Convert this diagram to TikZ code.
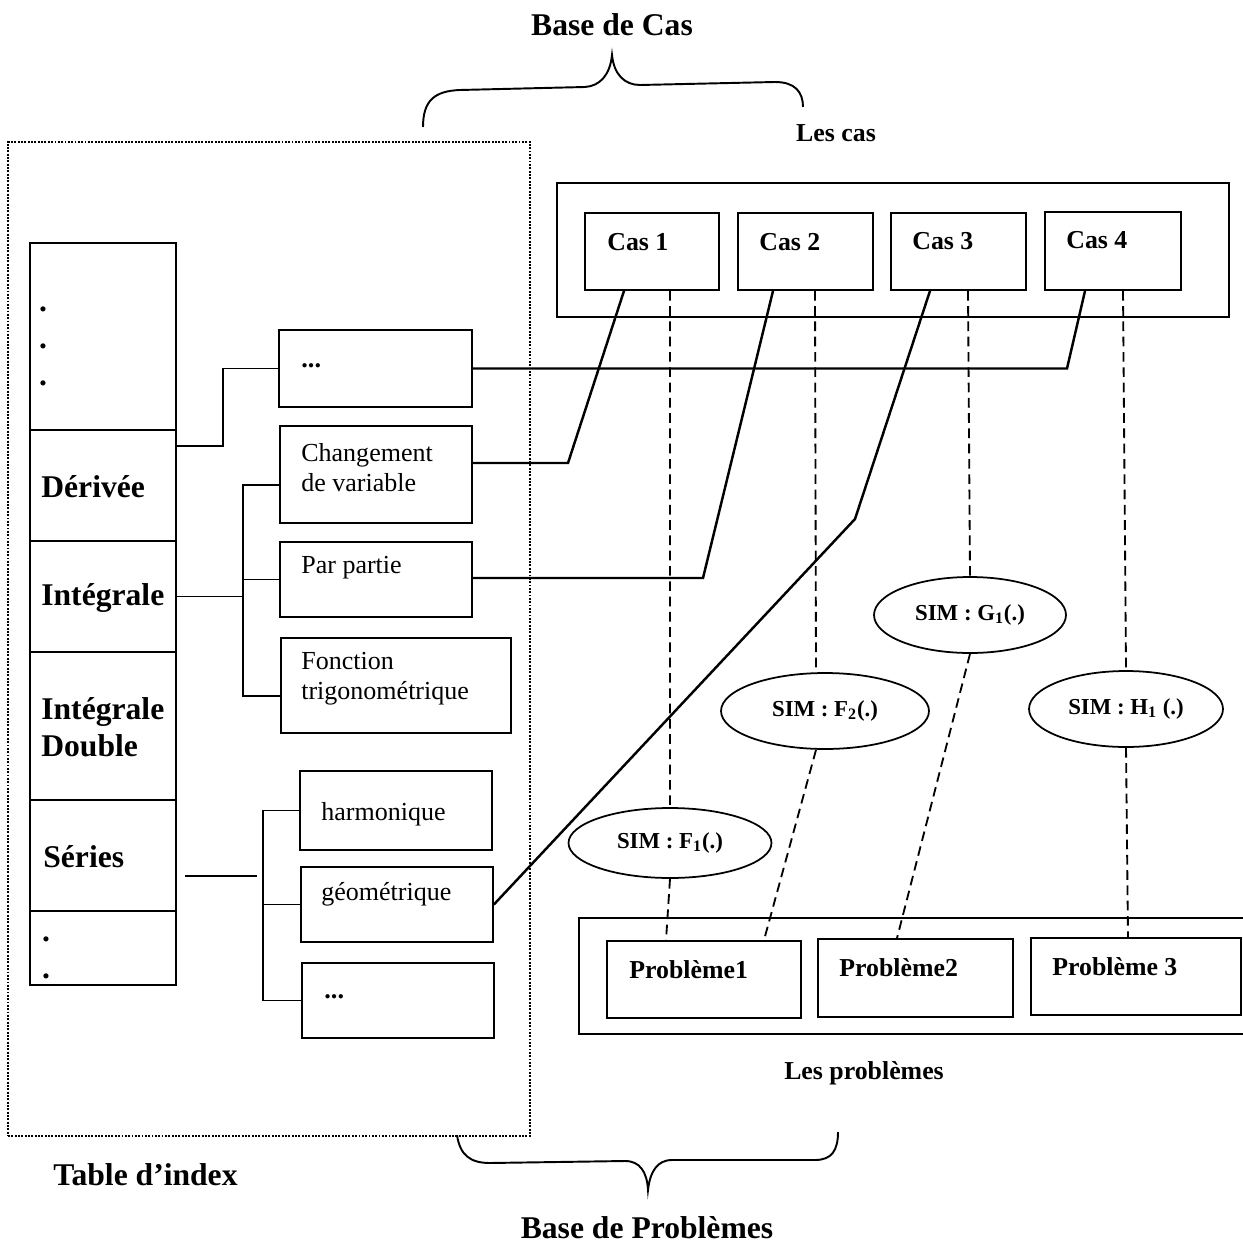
\documentclass[tikz,border=0pt]{standalone}
\usepackage{fontspec}
\setmainfont{Liberation Serif}
\usetikzlibrary{fit,shapes.geometric,calc}
\begin{document}
\begin{tikzpicture}[x=0.02cm,y=-0.02cm,
  box/.style={draw, line width=1pt, inner sep=0pt},
  tree/.style={line width=1.1pt},
  link/.style={line width=1.4pt},
  dline/.style={line width=1.05pt, dash pattern=on 5.5pt off 3.2pt},
  sim/.style={draw, ellipse, line width=1pt, inner sep=0pt, font=\fontsize{13}{15}\selectfont\bfseries},
  bigt/.style={font=\fontsize{18}{21}\selectfont\bfseries, inner sep=0pt, align=left},
  midt/.style={font=\fontsize{14.7}{17}\selectfont\bfseries, inner sep=0pt},
  txt/.style={font=\fontsize{14.8}{17}\selectfont, inner sep=0pt, align=left},
  dots/.style={font=\fontsize{15}{17}\selectfont\bfseries, inner sep=0pt},
  brace/.style={line width=1.1pt},
]
\useasboundingbox (0,0) rectangle (1243,1243);

% titles
\node[bigt] (tBaseCas) at (612,25) {Base de Cas};
\node[midt] (tLesCas) at (836,133) {Les cas};
\node[bigt, anchor=west] (tTable) at (53,1175) {Table d’index};
\node[bigt] (tBaseProb) at (647,1228) {Base de Problèmes};
\node[midt] (tLesProb) at (864,1073) {Les problèmes};

% braces
\draw[brace] (423,127) .. controls (423,100) and (435,91) .. (460,90) -- (585,87)
  .. controls (600,86) and (610,75) .. (612,55)
  .. controls (614,75) and (625,85) .. (640,85) -- (775,82)
  .. controls (795,82) and (803,92) .. (803,107);
\draw[brace] (457,1135) .. controls (460,1155) and (470,1163) .. (490,1163) -- (625,1161)
  .. controls (640,1161) and (647,1172) .. (648,1190)
  .. controls (650,1172) and (657,1160) .. (672,1160) -- (815,1160)
  .. controls (832,1160) and (838,1150) .. (838,1132);

% dotted index table frame
\node[draw, line width=1.1pt, dash pattern=on 1.1pt off 0.8pt, inner sep=0pt,
      fit={(8,142) (530,1136)}] (tableidx) {};

% column cells
\node[box, fit={(30,243) (176,430)}] (cTop) {};
\node[box, fit={(30,430) (176,541)}] (cDer) {};
\node[box, fit={(30,541) (176,652)}] (cInt) {};
\node[box, fit={(30,652) (176,800)}] (cDbl) {};
\node[box, fit={(30,800) (176,911)}] (cSer) {};
\node[box, fit={(30,911) (176,985)}] (cBot) {};

\node[bigt] (d1) at (43,309) {.};
\node[bigt] (d2) at (43,346) {.};
\node[bigt] (d3) at (43,383) {.};
\node[bigt, anchor=west] (tDer) at (41,487) {Dérivée};
\node[bigt, anchor=west] (tInt) at (41,598) {Intégrale};
\node[bigt, anchor=west] (tDbl) at (41,727) {Intégrale\\Double};
\node[bigt, anchor=west] (tSer) at (43,857) {Séries};
\node[bigt] (d4) at (46,939) {.};
\node[bigt] (d5) at (46,976) {.};

% middle boxes
\node[box, fit={(279,330) (472,407)}] (bDots1) {};
\node[box, fit={(280,426) (472,523)}] (bChg) {};
\node[box, fit={(280,542) (472,617)}] (bPar) {};
\node[box, fit={(281,638) (511,733)}] (bFct) {};
\node[box, fit={(300,771) (492,850)}] (bHar) {};
\node[box, fit={(301,867) (493,942)}] (bGeo) {};
\node[box, fit={(302,963) (494,1038)}] (bDots2) {};

\node[dots, anchor=west] (tDots1) at (301,366) {...};
\node[txt, anchor=west] (tChg) at (301,468) {Changement\\de variable};
\node[txt, anchor=west] (tPar) at (301,568) {Par partie};
\node[txt, anchor=west] (tFct) at (301,679) {Fonction\\trigonométrique};
\node[txt, anchor=west] (tHar) at (321,814) {harmonique};
\node[txt, anchor=west] (tGeo) at (321,894) {géométrique};
\node[dots, anchor=west] (tDots2) at (324,997) {...};

% cases
\node[box, fit={(557,183) (1229,317)}] (casbox) {};
\node[box, fit={(585,213) (719,290)}] (cas1) {};
\node[box, fit={(738,213) (873,290)}] (cas2) {};
\node[box, fit={(891,213) (1026,290)}] (cas3) {};
\node[box, fit={(1045,212) (1181,290)}] (cas4) {};
\node[midt, anchor=west] (tCas1) at (607,242) {Cas 1};
\node[midt, anchor=west] (tCas2) at (759,242) {Cas 2};
\node[midt, anchor=west] (tCas3) at (912,241) {Cas 3};
\node[midt, anchor=west] (tCas4) at (1066,240) {Cas 4};

% similarity ellipses
\node[sim, minimum width=4.06cm, minimum height=1.4cm] (f1) at (670,843) {SIM : F\textsubscript{1}(.)};
\node[sim, minimum width=4.16cm, minimum height=1.52cm] (f2) at (825,711) {SIM : F\textsubscript{2}(.)};
\node[sim, minimum width=3.84cm, minimum height=1.52cm] (g1) at (970,615) {SIM : G\textsubscript{1}(.)};
\node[sim, minimum width=3.88cm, minimum height=1.52cm] (h1) at (1126,709) {SIM : H\textsubscript{1} (.)};

% problems
\node[box, fit={(579,918) (1275,1034)}] (probbox) {};
\node[box, fit={(607,941) (801,1018)}] (p1) {};
\node[box, fit={(818,939) (1013,1017)}] (p2) {};
\node[box, fit={(1031,938) (1241,1015)}] (p3) {};
\node[midt, anchor=west] (tP1) at (629,970) {Problème1};
\node[midt, anchor=west] (tP2) at (839,968) {Problème2};
\node[midt, anchor=west] (tP3) at (1052,967) {Problème 3};

% tree connectors
\draw[tree] ([yshift=-0.34cm]cDer.north east) -- ++(46,0) |- (bDots1.west);
\coordinate (iB) at (243,0);
\coordinate (iB1) at (243,485);
\coordinate (iB3) at (243,696);
\draw[tree] (cInt.east) -- (cInt.east -| iB);
\draw[tree] (iB1 -| bChg.west) -- (iB1) -- (iB3) -- (iB3 -| bFct.west);
\draw[tree] (bPar.west) -- (bPar.west -| iB);
\coordinate (sA) at (185,876);
\coordinate (sB) at (257,876);
\draw[tree] (sA) -- (sB);
\coordinate (sV) at (263,0);
\draw[tree] (bHar.west) -- (bHar.west -| sV) -- (bDots2.west -| sV) -- (bDots2.west);
\draw[tree] (bGeo.west) -- (bGeo.west -| sV);

% case links
\coordinate (k1) at (568,463);
\draw[link] ([xshift=-0.56cm]cas1.south) -- (k1) -- (k1 -| bChg.east);
\coordinate (k2) at (703,578);
\draw[link] ([xshift=-0.65cm]cas2.south) -- (k2) -- (k2 -| bPar.east);
\coordinate (k3) at (855,519);
\draw[link] ([xshift=-0.57cm]cas3.south) -- (k3) -- (bGeo.east);
\coordinate (k4) at (1067,0);
\draw[link] ([xshift=-0.56cm]cas4.south) -- (k4 |- bDots1.east) -- (bDots1.east);

% dashed similarity links
\draw[dline] ([xshift=0.36cm]cas1.south) -- (f1.north);
\draw[dline] (f1.south) -- ([xshift=-0.76cm]p1.north);
\draw[dline] ([xshift=0.19cm]cas2.south) -- ([xshift=-0.18cm]f2.north);
\draw[dline] ([xshift=-0.18cm]f2.south) -- ([xshift=1.2cm]p1.north);
\draw[dline] ([xshift=0.19cm]cas3.south) -- (g1.north);
\draw[dline] (g1.south) -- ([xshift=-0.37cm]p2.north);
\draw[dline] ([xshift=0.2cm]cas4.south) -- (h1.north);
\draw[dline] (h1.south) -- ([xshift=-0.16cm]p3.north);
\end{tikzpicture}
\end{document}
